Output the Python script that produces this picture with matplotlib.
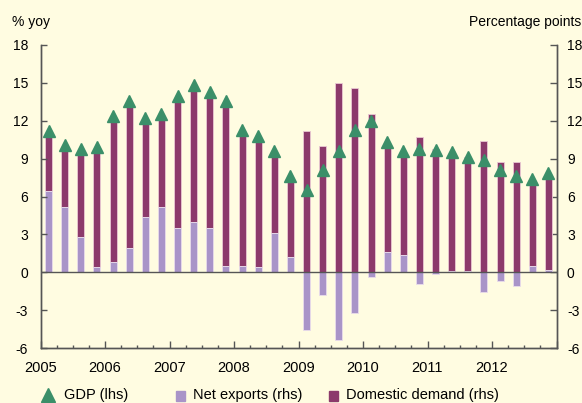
import numpy as np
import matplotlib
matplotlib.use("Agg")
import matplotlib.pyplot as plt

plt.rcParams['font.family'] = ['Liberation Sans', 'DejaVu Sans']
plt.rcParams['axes.unicode_minus'] = False

# quarterly data, 2005 Q1 - 2012 Q4
years = [2005, 2006, 2007, 2008, 2009, 2010, 2011, 2012]
gdp = [11.2, 10.1, 9.8, 9.9, 12.4, 13.6, 12.2, 12.5,
       14.0, 14.8, 14.3, 13.6, 11.3, 10.8, 9.6, 7.6,
       6.5, 8.1, 9.6, 11.3, 12.0, 10.3, 9.6, 9.8,
       9.7, 9.5, 9.1, 8.9, 8.1, 7.6, 7.4, 7.9]
net_exports = [6.4, 5.2, 2.8, 0.4, 0.8, 1.9, 4.4, 5.2,
               3.5, 4.0, 3.5, 0.5, 0.5, 0.4, 3.1, 1.2,
               -4.6, -1.8, -5.4, -3.2, -0.4, 1.6, 1.4, -0.9,
               -0.1, 0.1, 0.1, -1.6, -0.7, -1.1, 0.5, 0.2]
domestic = [4.5, 4.5, 6.6, 9.1, 11.2, 11.3, 7.5, 7.0,
            10.2, 10.5, 10.5, 12.8, 10.5, 10.1, 6.2, 6.1,
            11.2, 10.0, 15.0, 14.6, 12.5, 8.5, 8.0, 10.7,
            9.8, 9.2, 9.0, 10.4, 8.7, 8.7, 6.6, 7.4]

bg = '#FFFCE1'
dark = '#8C3A6B'
light = '#A994C8'
green = '#3B8F69'
axcol = '#555555'

fig = plt.figure(figsize=(5.82, 4.03), dpi=100, facecolor=bg)
ax = fig.add_axes([40.5 / 582, 1 - 348 / 403, 516 / 582, 303 / 403])
ax.set_facecolor(bg)
ax2 = ax.twinx()

n = len(gdp)
x = years[0] + (np.arange(n) + 0.5) / 4.0
w = 0.11
net = np.array(net_exports)
ax2.bar(x, domestic, width=w, bottom=np.maximum(net, 0), color=dark,
        edgecolor='#E9C9D3', linewidth=0.6, zorder=2)
ax2.bar(x, net, width=w, color=light, edgecolor='#E9DCEB', linewidth=0.6, zorder=2)
ax2.axhline(0, color=axcol, lw=1.0, zorder=3)
ax.plot(x, gdp, ls='none', marker='^', ms=8, color=green, zorder=5)

# markers above the bars
ax.set_zorder(ax2.get_zorder() + 1)
ax.patch.set_visible(False)
ax2.patch.set_visible(True)
ax2.patch.set_facecolor(bg)

for a in (ax, ax2):
    a.set_ylim(-6, 18)
    a.set_yticks(np.arange(-6, 19, 3))
    a.set_xlim(years[0], years[-1] + 1)
    a.spines['top'].set_visible(False)
    for s in ('left', 'right', 'bottom'):
        a.spines[s].set_color(axcol)
        a.spines[s].set_linewidth(1.0)

ax.tick_params(axis='y', direction='in', length=4.5, width=1, color=axcol,
               labelsize=10, pad=9)
ax2.tick_params(axis='y', direction='in', length=5, width=1, color=axcol,
                labelsize=10, pad=7.5)
ax.set_xticks(years + [years[-1] + 1])
ax.set_xticklabels([str(y) for y in years] + [''])
ax.set_xticks(years[0] + np.arange(0, 33) / 4.0, minor=True)
ax.tick_params(axis='x', which='major', direction='in', length=5, width=1,
               color=axcol, labelsize=10.5, pad=9)
ax.tick_params(axis='x', which='minor', direction='in', length=2.5, width=1,
               color=axcol)
ax2.tick_params(axis='x', which='both', bottom=False, labelbottom=False)

fig.text(12 / 582, 1 - 22 / 403, '% yoy', fontsize=10, va='center', ha='left')
fig.text(581 / 582, 1 - 22 / 403, 'Percentage points', fontsize=10,
         va='center', ha='right')

# legend along the bottom edge
ly = 1 - 395 / 403
fig.lines.append(plt.Line2D([48 / 582], [ly], transform=fig.transFigure,
                            marker='^', ms=10, color=green, ls='none'))
fig.patches.append(plt.Rectangle((176 / 582, ly - 0.014), 9 / 582, 0.024,
                                 transform=fig.transFigure, color=light))
fig.patches.append(plt.Rectangle((329 / 582, ly - 0.014), 9 / 582, 0.024,
                                 transform=fig.transFigure, color=dark))
fig.text(64 / 582, 1 / 403, 'GDP (lhs)', fontsize=10.5, va='bottom')
fig.text(193 / 582, 1 / 403, 'Net exports (rhs)', fontsize=10.5, va='bottom')
fig.text(346 / 582, 1 / 403, 'Domestic demand (rhs)', fontsize=10.5, va='bottom')

fig.savefig('out.png', dpi=100, facecolor=bg)
